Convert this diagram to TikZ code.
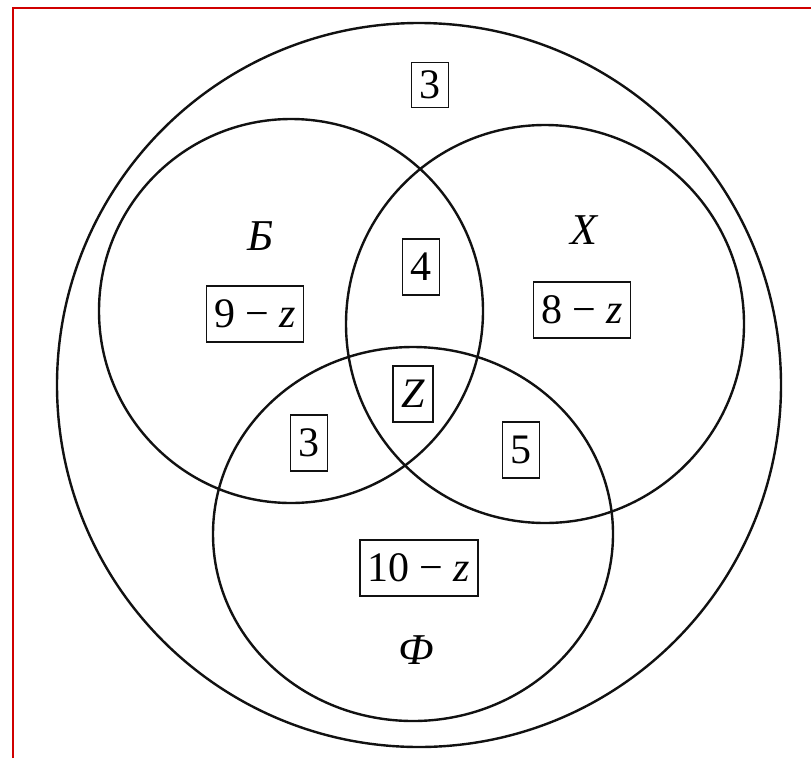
\documentclass[tikz,border=0pt]{standalone}
\usepackage{fontspec}
\setmainfont{Liberation Serif}
\usepackage{tikz}
\definecolor{vennInk}{HTML}{111111}
\definecolor{frameRed}{HTML}{D00000}
\newcommand{\minusgap}{\hspace{10pt}−\hspace{10pt}}
\tikzset{
  setCircle/.style={
    draw=vennInk,
    line width=2.4pt
  },
  countBox/.style={
    rectangle,
    draw=vennInk,
    line width=1.9pt,
    inner xsep=8pt,
    inner ysep=0pt,
    minimum height=56pt,
    font=\fontsize{42}{46}\selectfont
  },
  setName/.style={
    inner sep=0pt,
    font=\fontsize{44}{48}\selectfont\itshape
  }
}

\begin{document}
\begin{tikzpicture}[x=1pt,y=-1pt]
  \useasboundingbox (0,0) rectangle (811,758);
  \fill[white] (0,0) rectangle (811,758);
  % frame
  \draw[frameRed,line width=2pt] (13,758) -- (13,8) -- (811,8);
  % sets
  \draw[setCircle] (419,385) circle[radius=362];
  \draw[setCircle] (291,311) circle[radius=192];
  \draw[setCircle] (545,324) circle[radius=199];
  \draw[setCircle] (413,534) ellipse[x radius=200,y radius=187];
  % counts and names
  \node[countBox,minimum height=45pt] (outsideCount) at (430,85) {3};
  \node[setName] (bName) at (260,236) {Б};
  \node[countBox] (bOnly) at (255,314) {9\minusgap\textit{z}};
  \node[countBox] (bxCount) at (421,267) {4};
  \node[countBox] (bxfCount) at (413,394) {\textit{Z}};
  \node[countBox] (bfCount) at (309,443) {3};
  \node[setName] (xName) at (584,230) {Х};
  \node[countBox] (xOnly) at (582,310) {8\minusgap\textit{z}};
  \node[countBox] (xfCount) at (521,450) {5};
  \node[countBox] (fOnly) at (419,568) {10\minusgap\textit{z}};
  \node[setName] (fName) at (416,650) {Ф};
\end{tikzpicture}
\end{document}
